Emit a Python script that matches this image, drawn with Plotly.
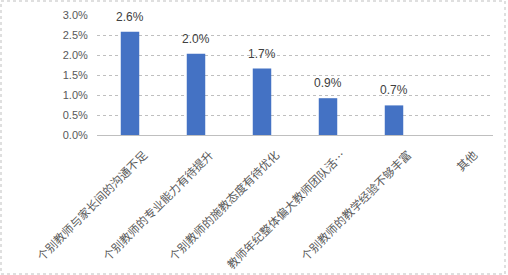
import plotly.graph_objects as go

categories = ["个别教师与家长间的沟通不足", "个别教师的专业能力有待提升", "个别教师的施教态度有待优化",
              "教师年纪整体偏大教师团队活…", "个别教师的教学经验不够丰富", "其他"]
values = [0.0258, 0.0203, 0.0166, 0.0092, 0.0074, 0.0]
labels = ["2.6%", "2.0%", "1.7%", "0.9%", "0.7%", ""]
yticks = [0, 0.005, 0.01, 0.015, 0.02, 0.025, 0.03]

W, H = 508, 275
L, R, T, B = 97, 15, 15, 140
pw, ph = W - L - R, H - T - B

fig = go.Figure(go.Bar(
    x=categories, y=values,
    marker=dict(color="#4472C4", line=dict(width=0)), width=0.28,
))
annotations = [dict(x=c, y=v, text=t, showarrow=False, yanchor="bottom", yshift=6,
                    font=dict(family="Liberation Sans", size=12, color="#404040"))
               for c, v, t in zip(categories, values, labels) if t]
fig.update_layout(
    width=W, height=H, margin=dict(l=L, r=R, t=T, b=B, autoexpand=False),
    paper_bgcolor="white", plot_bgcolor="white", showlegend=False,
    annotations=annotations,
    xaxis=dict(tickangle=-45, tickfont=dict(family="Noto Sans CJK SC", size=11.5, color="#595959"),
               showgrid=False, showline=False, ticks="", automargin=False,
               ticklabelstandoff=10, ticklabelshift=14),
    yaxis=dict(range=[0, 0.03], tickvals=yticks, tickformat=".1%",
               tickfont=dict(family="Liberation Sans", size=11, color="#595959"),
               showgrid=True, gridcolor="#BFBFBF", griddash="dot", gridwidth=1,
               zeroline=True, zerolinecolor="#BFBFBF", zerolinewidth=1,
               ticks="outside", ticklen=6, tickcolor="rgba(0,0,0,0)", showline=False,
               automargin=False),
    shapes=[dict(type="rect", xref="paper", yref="paper",
                 x0=(1 - L) / pw, x1=1 + (R - 3) / pw,
                 y0=-(B - 1) / ph, y1=1 + (T - 1) / ph,
                 line=dict(color="#BFBFBF", width=1, dash="dot"))],
)
fig.write_html("out.html")
